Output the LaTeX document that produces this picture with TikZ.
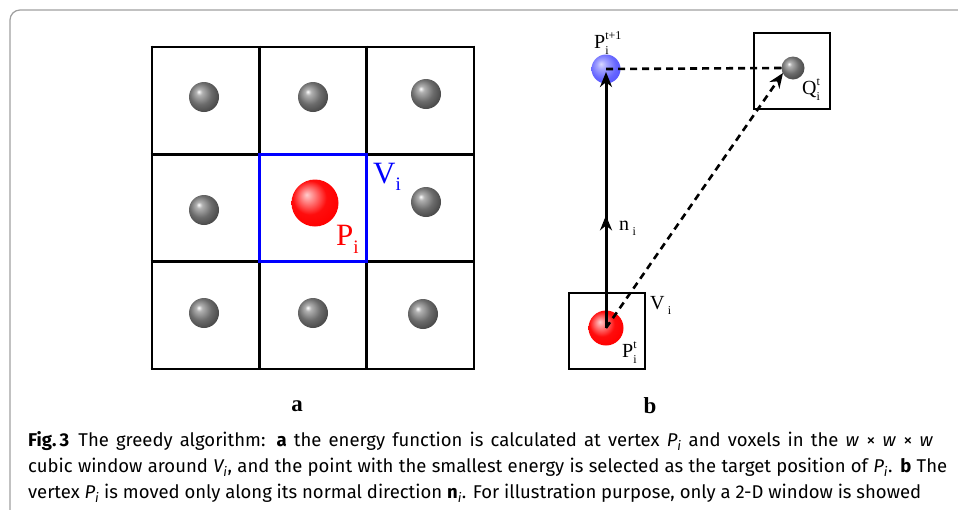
\documentclass[tikz,border=0pt]{standalone}
\usepackage{fontspec}
\setmainfont{Liberation Serif}
\newfontfamily\capfont{Fira Sans}
\usetikzlibrary{arrows.meta,decorations.markings,shadings}
\pgfdeclareradialshading{redsph}{\pgfpoint{-9bp}{9bp}}{color(0bp)=(red!20!white); color(6bp)=(red!45!white); color(18bp)=(red!95!white); color(30bp)=(red); color(50bp)=(red!88!black)}
\pgfdeclareradialshading{bluesph}{\pgfpoint{-9bp}{9bp}}{color(0bp)=(blue!15!white); color(8bp)=(blue!35!white); color(22bp)=(blue!60!white); color(35bp)=(blue!70!white); color(50bp)=(blue!70!black)}
\pgfdeclareradialshading{graysph}{\pgfpoint{-9bp}{9bp}}{color(0bp)=(white); color(5bp)=(black!30); color(18bp)=(black!58); color(32bp)=(black!75); color(50bp)=(black!90)}
\newcommand\lsmall{\fontsize{12}{12}\selectfont}
\newcommand\SubSup[3]{#1\rlap{\raisebox{9pt}{\lsmall #3}}\raisebox{-6pt}{\lsmall #2}}
\begin{document}
\begin{tikzpicture}[x=1pt,y=-1pt,
  gridline/.style={line width=2.8pt,black},
  gball/.style={circle,inner sep=0pt,minimum size=30pt,shading=graysph},
  rball/.style={circle,inner sep=0pt,shading=redsph},
  bball/.style={circle,inner sep=0pt,minimum size=29pt,shading=bluesph},
  winbox/.style={draw,line width=2pt,inner sep=0pt,minimum size=76pt},
  lab/.style={inner sep=0pt,anchor=base west,font=\fontsize{20}{20}\selectfont},
  biglab/.style={inner sep=0pt,anchor=base west,font=\fontsize{31}{31}\selectfont},
  panel/.style={font=\fontsize{23}{23}\selectfont\bfseries},
  capline/.style={inner sep=0pt,anchor=base west,font=\capfont\fontsize{18.5}{18.5}\selectfont}
]
\useasboundingbox (0,0) rectangle (958,509);
% frame
\draw[gray!75,line width=1.2pt,rounded corners=10pt] (10,520) -- (10,10) -- (970,10);
% ---- panel a ----
\foreach \x in {152,259.33,366.67,474} \draw[gridline] (\x,45.6) -- (\x,370.4);
\foreach \y in {47,154.33,261.67,369} \draw[gridline] (150.6,\y) -- (475.4,\y);
\draw[blue,line width=3.2pt] (259.33,154.33) rectangle (366.67,261.67);
\node[gball] (g1) at (204,97) {};
\node[gball] (g2) at (313,97) {};
\node[gball] (g3) at (426,94) {};
\node[gball] (g4) at (204,210) {};
\node[gball] (g5) at (426,202) {};
\node[gball] (g6) at (204,313) {};
\node[gball] (g7) at (313,313) {};
\node[gball] (g8) at (423,314) {};
\node[rball,minimum size=47pt] (pa) at (315,203) {};
\node[biglab,text=blue] (va) at (373,183) {V\raisebox{-7pt}{\fontsize{19}{19}\selectfont i}};
\node[biglab,text=red] (pla) at (336,245) {P\raisebox{-8pt}{\fontsize{19}{19}\selectfont i}};
\node[panel] (a) at (297,406) {a};
% ---- panel b ----
\node[winbox] (wb) at (606.5,331) {};
\node[winbox] (wt) at (791.5,71) {};
\node[rball,minimum size=35pt] (pt) at (606,328) {};
\node[bball] (pn) at (606,69) {};
\node[gball,minimum size=23pt] (q) at (793,68) {};
\draw[line width=2.6pt,dash pattern=on 7pt off 5pt] (pn.center) -- (q.west);
\draw[line width=3pt,
  postaction={decorate},
  decoration={markings,mark=at position 0.44 with {\arrow{Stealth[length=15pt,width=12pt]}}},
  -{Stealth[length=15pt,width=12pt]}] (pt.center) -- (606,72);
\draw[line width=2.6pt,dash pattern=on 7pt off 5pt,-{Stealth[length=15pt,width=12pt]}] (pt.center) -- (783,73);
\node[lab] (lpn) at (594,48) {\SubSup{P}{i}{t+1}};
\node[lab] (lq) at (802,94) {\SubSup{Q}{i}{t}};
\node[lab] (lv) at (650,309) {V\,\raisebox{-5pt}{\lsmall i}};
\node[lab] (lpt) at (622,357) {\SubSup{P}{i}{t}};
\node[lab] (ln) at (619,230) {n\,\raisebox{-5pt}{\lsmall i}};
\node[panel] (b) at (650,406) {b};
% ---- caption ----
\node[capline] (c1) at (28,446) {\makebox[905pt][s]{\mbox{\textbf{Fig.\,3}}\enspace The greedy algorithm: \textbf{a} the energy function is calculated at vertex \textit{P\textsubscript{i}} and voxels in the \textit{w} × \textit{w} × \textit{w}}};
\node[capline] (c2) at (28,472) {\makebox[919pt][s]{cubic window around \textit{V\textsubscript{i}}, and the point with the smallest energy is selected as the target position of \textit{P\textsubscript{i}}. \textbf{b} The}};
\node[capline] (c3) at (28,498) {\makebox[893pt][s]{vertex \textit{P\textsubscript{i}} is moved only along its normal direction \textbf{n}\textsubscript{\textit{i}}. For illustration purpose, only a 2-D window is showed}};
\end{tikzpicture}
\end{document}
